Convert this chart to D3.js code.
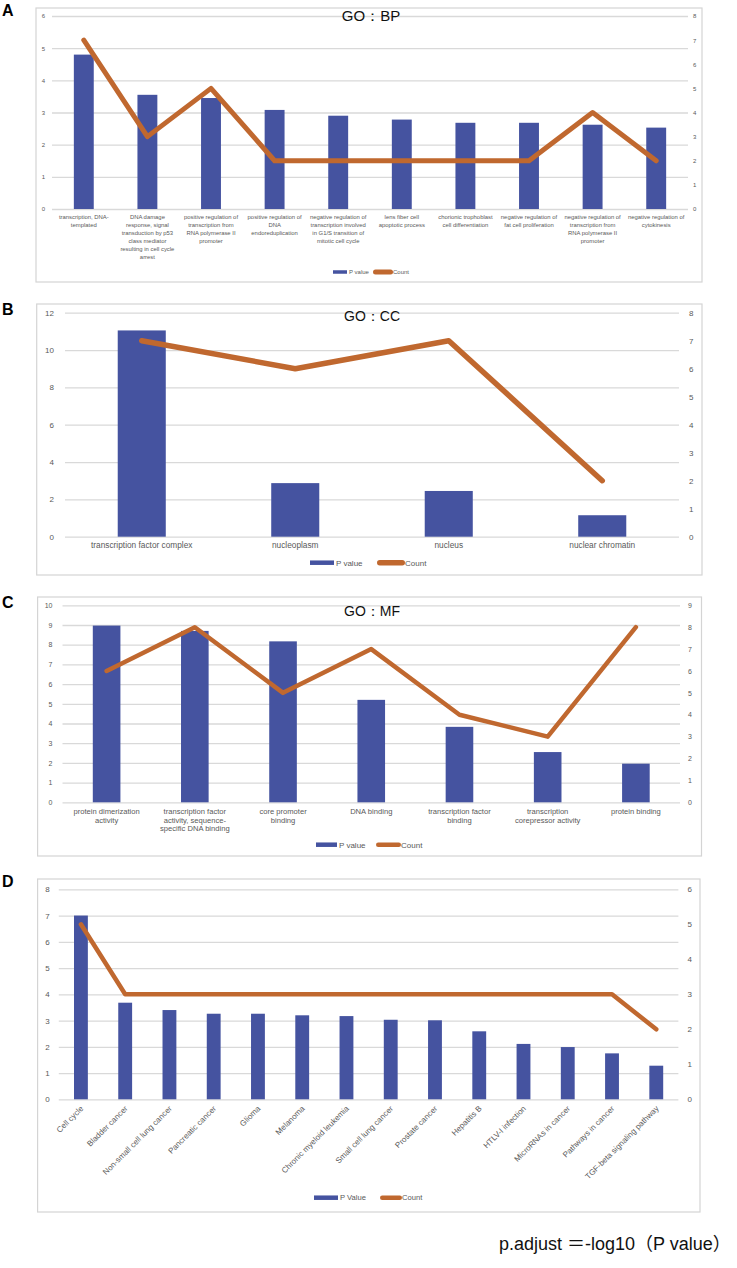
<!DOCTYPE html>
<html><head><meta charset="utf-8">
<script src="https://cdn.jsdelivr.net/npm/d3@7"></script>
<style>body{margin:0;background:#fff} svg{display:block}</style>
</head><body>
<svg id="c" width="737" height="1268"></svg>
<script>
// ---------- DATA ----------
const bpTerms = [
  ["transcription, DNA-","templated"],
  ["DNA damage","response, signal","transduction by p53","class mediator","resulting in cell cycle","arrest"],
  ["positive regulation of","transcription from","RNA polymerase II","promoter"],
  ["positive regulation of","DNA","endoreduplication"],
  ["negative regulation of","transcription involved","in G1/S transition of","mitotic cell cycle"],
  ["lens fiber cell","apoptotic process"],
  ["chorionic trophoblast","cell differentiation"],
  ["negative regulation of","fat cell proliferation"],
  ["negative regulation of","transcription from","RNA polymerase II","promoter"],
  ["negative regulation of","cytokinesis"]
];
const bpPValue = [4.8, 3.55, 3.45, 3.08, 2.9, 2.78, 2.68, 2.68, 2.62, 2.53];
const bpCount  = [7, 3, 5, 2, 2, 2, 2, 2, 4, 2];
const bpLeftTicks  = [0,1,2,3,4,5,6];
const bpRightTicks = [0,1,2,3,4,5,6,7,8];

const ccTerms = [["transcription factor complex"],["nucleoplasm"],["nucleus"],["nuclear chromatin"]];
const ccPValue = [11.05, 2.87, 2.45, 1.15];
const ccCount  = [7, 6, 7, 2];
const ccLeftTicks  = [0,2,4,6,8,10,12];
const ccRightTicks = [0,1,2,3,4,5,6,7,8];

const mfTerms = [
  ["protein dimerization","activity"],
  ["transcription factor","activity, sequence-","specific DNA binding"],
  ["core promoter","binding"],
  ["DNA binding"],
  ["transcription factor","binding"],
  ["transcription","corepressor activity"],
  ["protein binding"]
];
const mfPValue = [8.97, 8.7, 8.17, 5.2, 3.83, 2.55, 1.96];
const mfCount  = [6, 8, 5, 7, 4, 3, 8];
const mfLeftTicks  = [0,1,2,3,4,5,6,7,8,9,10];
const mfRightTicks = [0,1,2,3,4,5,6,7,8,9];

const keggTerms = ["Cell cycle","Bladder cancer","Non-small cell lung cancer","Pancreatic cancer","Glioma","Melanoma","Chronic myeloid leukemia","Small cell lung cancer","Prostate cancer","Hepatitis B","HTLV-I infection","MicroRNAs in cancer","Pathways in cancer","TGF-beta signaling pathway"];
const keggPValue = [7.0, 3.68, 3.4, 3.26, 3.26, 3.2, 3.17, 3.03, 3.01, 2.59, 2.11, 1.99, 1.75, 1.28];
const keggCount  = [5, 3, 3, 3, 3, 3, 3, 3, 3, 3, 3, 3, 3, 2];
const keggLeftTicks  = [0,1,2,3,4,5,6,7,8];
const keggRightTicks = [0,1,2,3,4,5,6];

// ---------- STYLE ----------
const BAR = "#4553a0", LINE = "#c0682f", TXT = "#595959", GRID = "#d9d9d9", FRAME = "#d4d4d4";
const FONT = "'Liberation Sans', Arial, sans-serif";
const svg = d3.select("#c");

function panel(o) {
  const g = svg.append("g");
  g.append("rect").attr("x", o.frame[0]).attr("y", o.frame[1]).attr("width", o.frame[2]).attr("height", o.frame[3])
    .attr("fill", "#fff").attr("stroke", FRAME).attr("stroke-width", 1.2);
  const idx = d3.range(o.pv.length);
  const x = d3.scaleBand().domain(idx).range([o.x0, o.x1]).paddingInner(0.687).paddingOuter(0.3435);
  const yL = d3.scaleLinear().domain([0, d3.max(o.lt)]).range([o.yb, o.yt]);
  const yR = d3.scaleLinear().domain([0, d3.max(o.rt)]).range([o.yb, o.yt]);

  const gl = g.append("g").attr("transform", `translate(${o.x0},0)`)
    .call(d3.axisLeft(yL).tickValues(o.lt).tickSize(-(o.x1 - o.x0)).tickPadding(o.lp).tickFormat(d3.format("d")));
  gl.select(".domain").remove();
  gl.selectAll("line").attr("stroke", GRID).attr("stroke-width", 1.3);
  gl.selectAll("text").attr("fill", TXT).style("font", `${o.tf}px ${FONT}`);

  const gr = g.append("g").attr("transform", `translate(${o.x1},0)`)
    .call(d3.axisRight(yR).tickValues(o.rt).tickSize(0).tickPadding(o.rp).tickFormat(d3.format("d")));
  gr.select(".domain").remove();
  gr.selectAll("text").attr("fill", TXT).style("font", `${o.tf}px ${FONT}`);

  g.selectAll("rect.bar").data(o.pv).join("rect").attr("class", "bar")
    .attr("x", (d, i) => x(i)).attr("width", x.bandwidth())
    .attr("y", d => yL(d)).attr("height", d => yL(0) - yL(d)).attr("fill", BAR);

  const line = d3.line().x((d, i) => x(i) + x.bandwidth() / 2).y(d => yR(d));
  g.append("path").datum(o.cnt).attr("d", line).attr("fill", "none").attr("stroke", LINE)
    .attr("stroke-width", o.lw).attr("stroke-linejoin", "round").attr("stroke-linecap", "round");

  // category labels
  if (o.rot) {
    g.selectAll("text.cat").data(o.terms).join("text").attr("class", "cat")
      .attr("transform", (d, i) => `translate(${x(i) + x.bandwidth() / 2 + 3},${o.ly}) rotate(-45)`)
      .attr("text-anchor", "end").attr("fill", TXT).style("font", `${o.lf}px ${FONT}`).text(d => d);
  } else {
    const cats = g.selectAll("text.cat").data(o.terms).join("text").attr("class", "cat")
      .attr("text-anchor", "middle").attr("fill", TXT).style("font", `${o.lf}px ${FONT}`);
    cats.each(function (d, i) {
      d3.select(this).selectAll("tspan").data(d).join("tspan")
        .attr("x", x(i) + x.bandwidth() / 2).attr("y", (s, j) => o.ly + j * o.lh).text(s => s);
    });
  }

  // title
  if (o.title) {
    g.append("text").attr("x", o.title[1]).attr("y", o.title[2]).attr("text-anchor", "middle")
      .attr("fill", "#111").style("font", `${o.title[3]}px ${FONT}`).text(o.title[0]);
  }
  // legend
  const L = o.leg;
  g.append("rect").attr("x", L.p0).attr("y", L.y - L.sh / 2).attr("width", L.p1 - L.p0).attr("height", L.sh).attr("fill", BAR);
  g.append("text").attr("x", L.p1 + 2).attr("y", L.y).attr("dy", "0.35em").attr("fill", TXT)
    .style("font", `${L.f}px ${FONT}`).text(L.pname);
  g.append("line").attr("x1", L.c0 + o.lw / 2).attr("x2", L.c1 - o.lw / 2).attr("y1", L.y).attr("y2", L.y)
    .attr("stroke", LINE).attr("stroke-width", o.lw).attr("stroke-linecap", "round");
  g.append("text").attr("x", L.c1).attr("y", L.y).attr("dy", "0.35em").attr("fill", TXT)
    .style("font", `${L.f}px ${FONT}`).text("Count");
  // panel letter
  g.append("text").attr("x", 2).attr("y", o.letter[1]).attr("fill", "#000")
    .style("font", `bold 16px ${FONT}`).text(o.letter[0]);
}

panel({ frame: [36, 8, 666, 274], x0: 52, x1: 688, yb: 209, yt: 16, lt: bpLeftTicks, rt: bpRightTicks,
  pv: bpPValue, cnt: bpCount, terms: bpTerms, lp: 7, rp: 5, tf: 6, lw: 5, lf: 5.9, ly: 219, lh: 8,
  title: ["GO：BP", 371, 21, 15], leg: { y: 272, p0: 333, p1: 347, sh: 3.5, c0: 373, c1: 393, f: 6, pname: "P value" },
  letter: ["A", 16] });

panel({ frame: [36.7, 304, 665.3, 271], x0: 65, x1: 679, yb: 536.7, yt: 312.7, lt: ccLeftTicks, rt: ccRightTicks,
  pv: ccPValue, cnt: ccCount, terms: ccTerms, lp: 11, rp: 10, tf: 8, lw: 5.5, lf: 8.3, ly: 548, lh: 9,
  title: ["GO：CC", 372, 321, 14], leg: { y: 562.7, p0: 310, p1: 334, sh: 4.5, c0: 377, c1: 405, f: 8, pname: "P value" },
  letter: ["B", 315] });

panel({ frame: [37.6, 597, 663.9, 259], x0: 62.5, x1: 680, yb: 802.3, yt: 605.3, lt: mfLeftTicks, rt: mfRightTicks,
  pv: mfPValue, cnt: mfCount, terms: mfTerms, lp: 10, rp: 8, tf: 7, lw: 4.5, lf: 7.6, ly: 814, lh: 8.7,
  title: ["GO：MF", 372, 616, 14], leg: { y: 844.7, p0: 316, p1: 337, sh: 4.5, c0: 376, c1: 401, f: 8, pname: "P value" },
  letter: ["C", 608] });

panel({ frame: [37.6, 879, 662.4, 333], x0: 58.8, x1: 678.4, yb: 1099.3, yt: 889.3, lt: keggLeftTicks, rt: keggRightTicks,
  pv: keggPValue, cnt: keggCount, terms: keggTerms, lp: 9, rp: 9, tf: 8, lw: 4.5, lf: 8, ly: 1109, rot: true,
  leg: { y: 1197.7, p0: 314, p1: 338, sh: 4.5, c0: 380, c1: 402, f: 7.6, pname: "P Value" },
  letter: ["D", 887] });

svg.append("text").attr("x", 499).attr("y", 1250).attr("fill", "#111")
  .style("font", `18px 'Liberation Sans', Arial, 'Noto Sans CJK SC', sans-serif`).text("p.adjust ＝-log10（P value）");
</script>
</body></html>
